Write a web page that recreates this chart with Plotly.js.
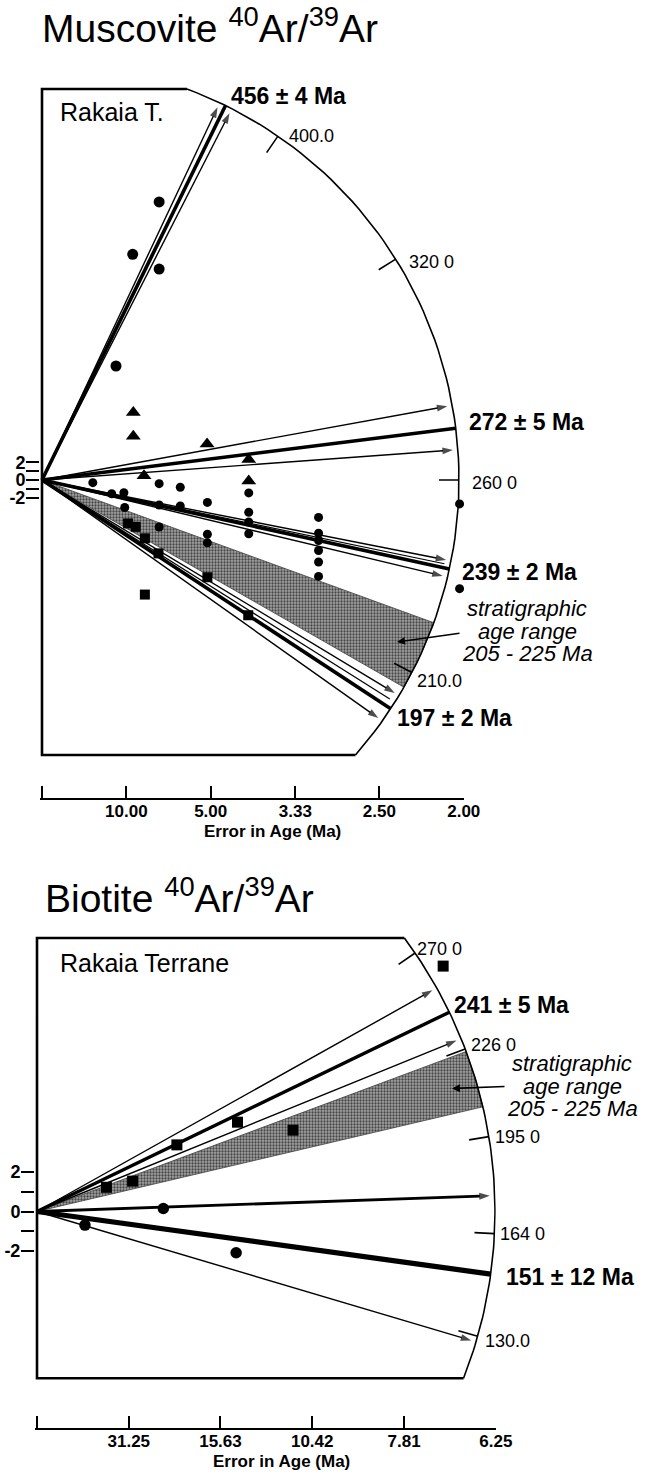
<!DOCTYPE html>
<html><head><meta charset="utf-8">
<script src="https://cdn.plot.ly/plotly-3.0.1.min.js"></script>
<style>html,body{margin:0;padding:0;background:#fff}#chart{width:647px;height:1472px}</style>
</head><body><div id="chart"></div>
<script>
// ================= DATA =================
// --- Muscovite 40Ar/39Ar, Rakaia T. (radial plot, reference age 260 Ma) ---
const muscRefAge = 260;
const muscBigCircAge = [488, 499, 433, 408];
const muscBigCircErr = [7.2, 9.3, 7.2, 11.4];
const muscCircAge = [255, 241, 245, 228, 257, 239.5, 221.5, 255, 242, 247, 228.5, 223.5, 254, 245, 240.5, 235, 247, 241.5, 239, 235.5, 231.5, 226.5, 254.5, 235];
const muscCircErr = [16.6, 12.1, 10.3, 10.2, 7.2, 7.2, 7.2, 6.1, 6.1, 5.1, 5.1, 5.1, 4.08, 4.08, 4.08, 4.08, 3.05, 3.05, 3.05, 3.05, 3.05, 3.05, 2.02, 2.02];
const muscTriAge = [331, 306, 281, 264, 269.5, 259.5];
const muscTriErr = [9.24, 9.24, 5.11, 8.27, 4.08, 4.08];
const muscSqAge = [211.5, 212, 205.5, 199.5, 203.5, 153, 197];
const muscSqErr = [9.8, 9.0, 8.2, 7.24, 5.1, 8.2, 4.09];
const muscMeanAges = [456, 272, 239, 197];
const muscMeanErrs = [4, 5, 2, 2];
const muscArrowAges = [464, 448, 277.5, 267, 241, 237, 202, 192];
const muscThinAges = [240, 199.5];
const muscArcTickAges = [400, 320, 260, 210];
const muscArcTickText = ['400.0', '320 0', '260 0', '210.0'];
const muscStratRange = [205, 225];
const muscErrTicks = [10, 5, 3.33, 2.5, 2];
const muscErrTickText = ['10.00', '5.00', '3.33', '2.50', '2.00'];

// --- Biotite 40Ar/39Ar, Rakaia Terrane (reference age 171 Ma) ---
const bioRefAge = 171;
const bioSqAge = [221.5, 217, 240, 235.5, 217, 258.5];
const bioSqErr = [41.3, 30, 20.5, 14.3, 11.2, 7.06];
const bioCircAge = [130, 174.5, 141];
const bioCircErr = [59.8, 22.7, 14.4];
const bioMeanAges = [241, 151];
const bioMeanErrs = [5, 12];
const bioArrowAges = [252, 230, 176, 128];
const bioArcTickAges = [270, 226, 195, 164, 130];
const bioArcTickText = ['270 0', '226 0', '195 0', '164 0', '130.0'];
const bioStratRange = [205, 225];
const bioErrTicks = [31.25, 15.63, 10.42, 7.81, 6.25];
const bioErrTickText = ['31.25', '15.63', '10.42', '7.81', '6.25'];

const zTicks = [-2, -1, 0, 1, 2];
const zTickText = ['-2', '', '0', '', '2'];

// ================= LAYOUT / GEOMETRY =================
const W = 647, H = 1472;
const FONT = 'Liberation Sans, Arial, Helvetica, sans-serif';
const P1 = {ox: 42, oy: 480, xMaxPx: 463.75, B: 8.78, R: 417, frameTop: 89, frameBot: 755,
  axisY: 798.3, domTop: 60, t0: muscRefAge, xa: 'x', ya: 'y', errTicks: muscErrTicks};
const P2 = {ox: 37, oy: 1211.5, xMaxPx: 495.8, B: 19.8, R: 458, frameTop: 938, frameBot: 1378.3,
  axisY: 1428.3, domTop: 925, t0: bioRefAge, xa: 'x2', ya: 'y2', errTicks: bioErrTicks};
[P1, P2].forEach(P => {
  const xmax = 1 / P.errTicks[P.errTicks.length - 1];
  P.A = (P.xMaxPx - P.ox) / xmax;
  P.xmax = xmax;
});

function rayPt(P, t, r) {
  const th = Math.atan((t - P.t0) * P.B / P.A);
  return [r * Math.cos(th) / P.A, r * Math.sin(th) / P.B];
}
function pts(P, ages, errs) {
  return {x: errs.map(e => 1 / e), y: ages.map((a, i) => (a - P.t0) / errs[i])};
}

const traces = [];
const annotations = [];

function band(P, range) {
  const xs = [0], ys = [0];
  const N = 40;
  for (let i = 0; i <= N; i++) {
    const t = range[1] - (range[1] - range[0]) * i / N;
    const p = rayPt(P, t, P.R);
    xs.push(p[0]); ys.push(p[1]);
  }
  xs.push(0); ys.push(0);
  // solid grey base
  traces.push({type: 'scatter', mode: 'lines', x: xs, y: ys, xaxis: P.xa, yaxis: P.ya,
    fill: 'toself', fillcolor: '#a3a3a3', line: {width: 0.8, color: '#444'}, hoverinfo: 'skip'});
  // halftone stipple overlay
  traces.push({type: 'scatter', mode: 'lines', x: xs, y: ys, xaxis: P.xa, yaxis: P.ya,
    fill: 'toself', fillcolor: 'rgba(0,0,0,0)', line: {width: 0},
    fillpattern: {shape: '.', size: 3, solidity: 0.45, fgcolor: '#3c3c3c', fgopacity: 0.9},
    hoverinfo: 'skip'});
}

function frame(P) {
  const zT = (P.oy - P.frameTop) / P.B, zB = -(P.frameBot - P.oy) / P.B;
  const thT = Math.asin((P.oy - P.frameTop) / P.R), thB = -Math.asin((P.frameBot - P.oy) / P.R);
  const xB = P.R * Math.cos(thB) / P.A, xT = P.R * Math.cos(thT) / P.A;
  traces.push({type: 'scatter', mode: 'lines', x: [xT, 0, 0, xB], y: [zT, zT, zB, zB],
    xaxis: P.xa, yaxis: P.ya, line: {color: '#000', width: 2.6}, hoverinfo: 'skip'});
  const ax = [], ay = [];
  for (let i = 0; i <= 80; i++) {
    const th = thB + (thT - thB) * i / 80;
    ax.push(P.R * Math.cos(th) / P.A); ay.push(P.R * Math.sin(th) / P.B);
  }
  traces.push({type: 'scatter', mode: 'lines', x: ax, y: ay, xaxis: P.xa, yaxis: P.ya,
    line: {color: '#000', width: 1.6}, hoverinfo: 'skip'});
}

function arcTicks(P, ages, texts, shifts) {
  ages.forEach((t, i) => {
    const a = rayPt(P, t, P.R - 20), b = rayPt(P, t, P.R);
    traces.push({type: 'scatter', mode: 'lines', x: [a[0], b[0]], y: [a[1], b[1]],
      xaxis: P.xa, yaxis: P.ya, line: {color: '#000', width: 1.6}, hoverinfo: 'skip'});
    annotations.push({x: b[0], y: b[1], xref: P.xa, yref: P.ya, text: texts[i], showarrow: false,
      xanchor: 'left', yanchor: 'middle', xshift: shifts[i][0], yshift: shifts[i][1],
      font: {family: FONT, size: 18, color: '#000'}});
  });
}

function rays(P, ages, width, arrow, rEnd) {
  ages.forEach(t => {
    const p = rayPt(P, t, rEnd);
    const tr = {type: 'scatter', mode: arrow ? 'lines+markers' : 'lines', x: [0, p[0]], y: [0, p[1]],
      xaxis: P.xa, yaxis: P.ya, line: {color: '#000', width: width}, hoverinfo: 'skip'};
    if (arrow) tr.marker = {symbol: ['circle', 'arrow'], size: [0, 11], angleref: 'previous',
      color: '#000', line: {width: 0}};
    traces.push(tr);
  });
}

function markers(P, d, symbol, size) {
  traces.push({type: 'scatter', mode: 'markers', x: d.x, y: d.y, xaxis: P.xa, yaxis: P.ya,
    cliponaxis: false, marker: {symbol: symbol, size: size, color: '#000', line: {width: 0}},
    hoverinfo: 'skip'});
}

function ageLabels(P, ages, errs, shifts) {
  ages.forEach((t, i) => {
    const p = rayPt(P, t, P.R);
    annotations.push({x: p[0], y: p[1], xref: P.xa, yref: P.ya, text: t + ' \u00b1 ' + errs[i] + ' Ma',
      showarrow: false, xanchor: 'left', yanchor: 'middle', xshift: shifts[i][0], yshift: shifts[i][1],
      font: {family: FONT, size: 23, color: '#000', weight: 'bold'}});
  });
}

function paperText(text, px, py, opts) {
  annotations.push(Object.assign({x: px / W, y: 1 - py / H, xref: 'paper', yref: 'paper', text: text,
    showarrow: false, xanchor: 'left', yanchor: 'middle',
    font: {family: FONT, size: 18, color: '#000'}}, opts || {}));
}

// ---------- Muscovite panel ----------
band(P1, muscStratRange);
frame(P1);
arcTicks(P1, muscArcTickAges, muscArcTickText, [[9, 0], [11, -3], [11, -3], [3, -8]]);
rays(P1, muscThinAges, 1.2, false, P1.R - 6);
rays(P1, muscArrowAges, 1.4, true, P1.R - 5);
rays(P1, muscMeanAges, 3.6, false, P1.R);
markers(P1, pts(P1, muscBigCircAge, muscBigCircErr), 'circle', 11);
markers(P1, pts(P1, muscCircAge, muscCircErr), 'circle', 9);
markers(P1, pts(P1, muscTriAge, muscTriErr), 'triangle-up', 13);
markers(P1, pts(P1, muscSqAge, muscSqErr), 'square', 10);
ageLabels(P1, muscMeanAges, muscMeanErrs, [[3, 10], [11, 6], [11, -3], [4, -9]]);

// ---------- Biotite panel ----------
band(P2, bioStratRange);
frame(P2);
arcTicks(P2, bioArcTickAges, bioArcTickText, [[0, 4], [4, 4], [4, 0], [4, 0], [5, -5]]);
rays(P2, [bioArrowAges[0], bioArrowAges[1], bioArrowAges[3]], 1.4, true, P2.R - 5);
rays(P2, [bioArrowAges[2]], 2.8, true, P2.R - 5);
rays(P2, [bioMeanAges[0]], 3.4, false, P2.R);
rays(P2, [bioMeanAges[1]], 5.2, false, P2.R);
markers(P2, pts(P2, bioSqAge, bioSqErr), 'square', 11);
markers(P2, pts(P2, bioCircAge, bioCircErr), 'circle', 11.5);
ageLabels(P2, bioMeanAges, bioMeanErrs, [[3, 7], [13, -3]]);

// ---------- Texts ----------
const titleFont = {family: FONT, size: 39, color: '#000'};
paperText('Muscovite <sup>40</sup>Ar/<sup>39</sup>Ar', 40, 52, {yanchor: 'bottom', font: titleFont});
paperText('Biotite <sup>40</sup>Ar/<sup>39</sup>Ar', 43, 922, {yanchor: 'bottom', font: titleFont});
paperText('Rakaia T.', 58, 112.5, {font: {family: FONT, size: 25, color: '#000'}});
paperText('Rakaia Terrane', 58, 963, {font: {family: FONT, size: 25, color: '#000'}});

const italic = {family: FONT, size: 22, color: '#000', style: 'italic'};
[['stratigraphic', 608.5], ['age range', 631.5], ['205 - 225 Ma', 653.5]].forEach(r =>
  paperText(r[0], 527, r[1], {xanchor: 'center', font: italic}));
[['stratigraphic', 1063.5], ['age range', 1086.5], ['205 - 225 Ma', 1108.5]].forEach(r =>
  paperText(r[0], 572, r[1], {xanchor: 'center', font: italic}));
// leader arrows
annotations.push({x: 397 / W, y: 1 - 642 / H, xref: 'paper', yref: 'paper', ax: 64, ay: -9,
  showarrow: true, arrowhead: 2, arrowsize: 1, arrowwidth: 1.6, arrowcolor: '#000', text: ''});
annotations.push({x: 452 / W, y: 1 - 1088.5 / H, xref: 'paper', yref: 'paper', ax: 54, ay: -2,
  showarrow: true, arrowhead: 2, arrowsize: 1, arrowwidth: 1.6, arrowcolor: '#000', text: ''});

const boldAx = {family: FONT, size: 17, color: '#000', weight: 'bold'};
paperText('Error in Age (Ma)', 272, 831, {xanchor: 'center', font: boldAx});
paperText('Error in Age (Ma)', 281, 1461, {xanchor: 'center', font: boldAx});

// ---------- axes ----------
function axes(P, tickText) {
  const x = {
    domain: [(P.ox - 2) / W, P.xMaxPx / W], range: [-2 / P.A, P.xmax], anchor: P.ya,
    showgrid: false, zeroline: false, showline: true, linewidth: 2, linecolor: '#000',
    ticks: 'inside', ticklen: 12, tickwidth: 2, tickcolor: '#000', ticklabelstandoff: -4,
    tickvals: [0].concat(P.errTicks.map(e => 1 / e)), ticktext: [''].concat(tickText),
    tickfont: {family: FONT, size: 17, color: '#000', weight: 'bold'}, fixedrange: true, automargin: false
  };
  const y = {
    domain: [1 - P.axisY / H, 1 - P.domTop / H],
    range: [-(P.axisY - P.oy) / P.B, (P.oy - P.domTop) / P.B], anchor: P.xa,
    showgrid: false, zeroline: false, showline: false,
    ticks: 'outside', ticklen: 13, tickwidth: 2, tickcolor: '#000', ticklabelstandoff: -3,
    tickvals: zTicks, ticktext: zTickText,
    tickfont: {family: FONT, size: 18, color: '#000', weight: 'bold'}, fixedrange: true, automargin: false
  };
  return [x, y];
}
const [x1, y1] = axes(P1, muscErrTickText);
const [x2, y2] = axes(P2, bioErrTickText);

const layout = {
  width: W, height: H, margin: {l: 0, r: 0, t: 0, b: 0},
  paper_bgcolor: '#fff', plot_bgcolor: 'rgba(0,0,0,0)', showlegend: false,
  xaxis: x1, yaxis: y1, xaxis2: x2, yaxis2: y2,
  annotations: annotations, font: {family: FONT}
};
Plotly.newPlot('chart', traces, layout, {staticPlot: true, displayModeBar: false});
</script>
</body></html>
